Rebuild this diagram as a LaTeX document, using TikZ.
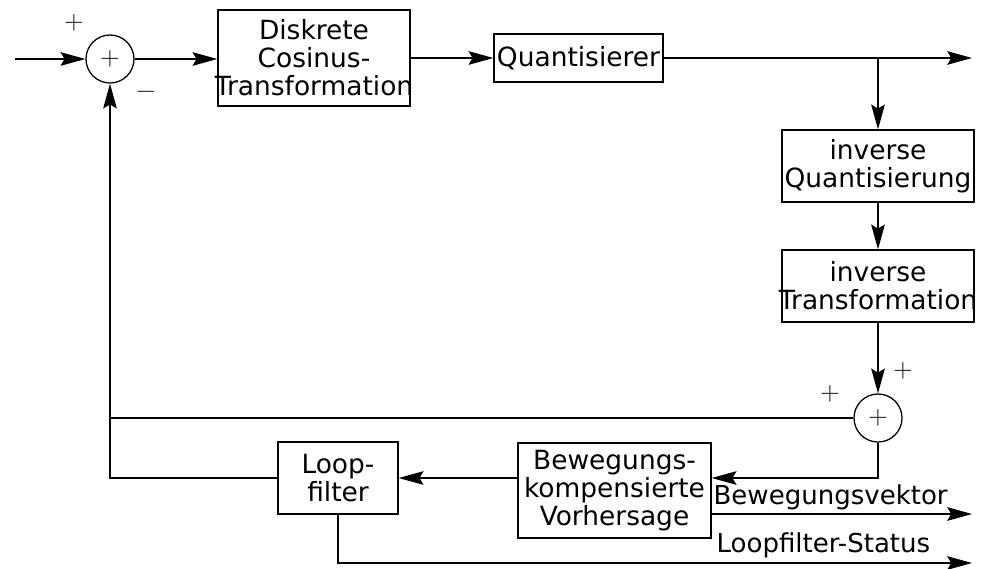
\documentclass[tikz,border=0pt]{standalone}
\usepackage{fontspec}
\setmainfont{DejaVu Sans}
\newfontfamily\signfont{Latin Modern Roman}
\usetikzlibrary{arrows.meta}

\tikzset{
  every path/.style={line width=0.9pt},
  >={Stealth[length=0.62cm,width=0.34cm,inset=0.1cm]},
  block/.style={draw,line width=0.9pt,inner sep=0pt},
  blocktext/.style={align=center,inner sep=0pt,font=\fontsize{18.8}{20}\selectfont},
  sumnode/.style={draw,circle,line width=0.9pt,minimum size=1.2cm,inner sep=0pt,font=\signfont\fontsize{19}{19}\selectfont},
  sign/.style={inner sep=0pt,font=\signfont\fontsize{19}{19}\selectfont},
  outtext/.style={anchor=base west,inner sep=0pt,font=\fontsize{18.5}{20}\selectfont}
}

\begin{document}
\begin{tikzpicture}[x=0.025cm,y=-0.025cm]
  \useasboundingbox (0,0) rectangle (983,568);
  \node (sum1) at (110,59) [sumnode] {+};
  \node (sum2) at (878,418) [sumnode] {+};
  \node (dct) at (314,58) [block,minimum width=4.8cm,minimum height=2.4cm] {};
  \node (quant) at (578.5,58) [block,minimum width=4.225cm,minimum height=1.2cm] {};
  \node (invq) at (878,166) [block,minimum width=4.8cm,minimum height=1.8cm] {};
  \node (invt) at (878,286) [block,minimum width=4.8cm,minimum height=1.8cm] {};
  \node (mcp) at (614.5,490.5) [block,minimum width=4.825cm,minimum height=2.375cm] {};
  \node (loop) at (338,478) [block,minimum width=3.0cm,minimum height=1.8cm] {};
  \node (dcttext) at (dct) [blocktext] {Diskrete\\Cosinus-\\Transformation};
  \node (quanttext) at (quant) [blocktext] {Quantisierer};
  \node (invqtext) at (invq) [blocktext] {inverse\\Quantisierung};
  \node (invttext) at (invt) [blocktext] {inverse\\Transformation};
  \node (mcptext) at (mcp) [blocktext] {Bewegungs-\\kompensierte\\Vorhersage};
  \node (looptext) at (loop) [blocktext] {Loop-\\filter};
  \node (plusin) at (74,23) [sign] {+};
  \node (minusfb) at (146,95) [sign] {−};
  \node (plusinv) at (903,371) [sign] {+};
  \node (plusfb) at (830,394) [sign] {+};
  \coordinate (in) at (15,59);
  \coordinate (branch) at (878,58);
  \coordinate (outq) at (972,58);
  \coordinate (outmv) at (972,514);
  \coordinate (outlf) at (972,563);
  \draw[->] (in) -- (sum1.west);
  \draw[->] (sum1.east) -- (sum1.east -| dct.west);
  \draw[->] (dct.east |- quant.west) -- (quant.west);
  \draw[->] (quant.east) -- (outq);
  \draw[->] (branch) -- (invq.north);
  \draw[->] (invq.south) -- (invt.north);
  \draw[->] (invt.south) -- (sum2.north);
  \draw[->] (sum2.south) |- (mcp.east |- loop.east);
  \draw[->] (mcp.west |- loop.east) -- (loop.east);
  \draw[->] (loop.west) -| (sum1.south);
  \draw (sum2.west) -- (sum2.west -| sum1.south);
  \draw[->] (mcp.east |- outmv) -- (outmv);
  \draw[->] (loop.south) |- (outlf);
  \node (mvtext) at (713,504) [outtext] {Bewegungsvektor};
  \node (lftext) at (716,552) [outtext] {Loopfilter-Status};
\end{tikzpicture}
\end{document}
